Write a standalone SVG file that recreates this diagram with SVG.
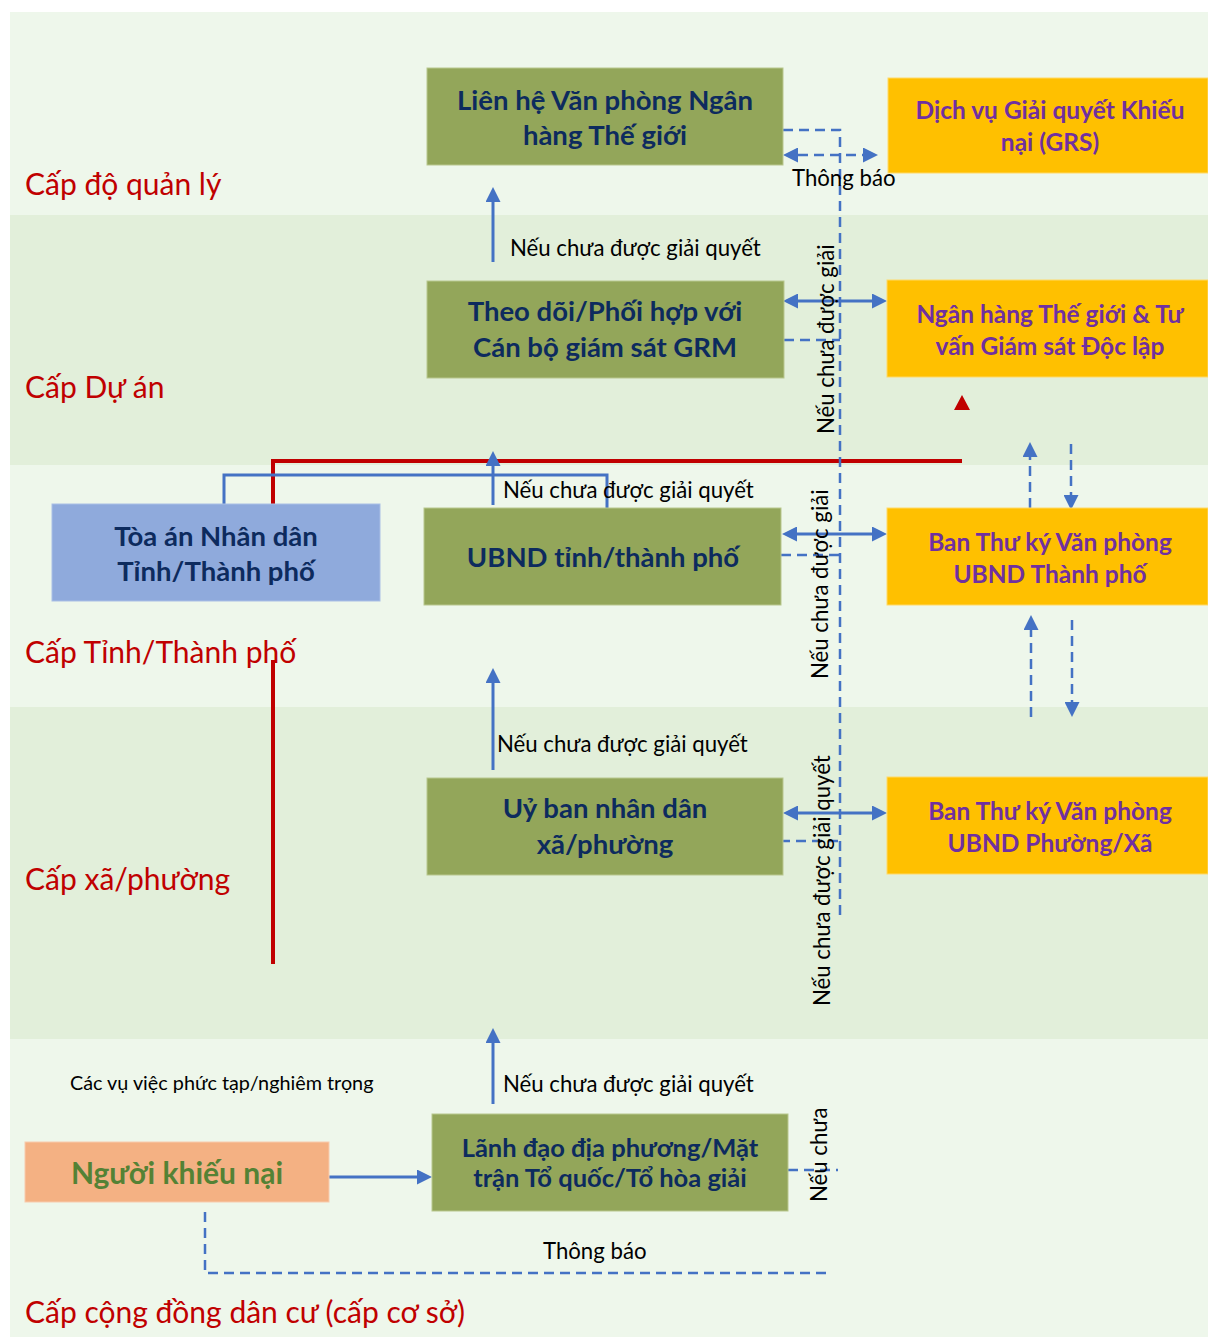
<svg xmlns="http://www.w3.org/2000/svg" width="1208" height="1337" viewBox="0 0 1208 1337">
<defs>
<style>
.bandL{fill:#EEF7EB}
.bandD{fill:#E2EFDA}
.g{fill:#93A65A;stroke:#B8C78E;stroke-width:1}
.y{fill:#FFC000;stroke:#FFD966;stroke-width:1}
.nt{font-family:Lato,"Liberation Sans",sans-serif;font-weight:bold;fill:#0D2B5E;text-anchor:middle}
.yt{font-family:Lato,"Liberation Sans",sans-serif;font-weight:bold;fill:#7030A0;text-anchor:middle;font-size:24.5px}
.lvl{font-family:Lato,"Liberation Sans",sans-serif;fill:#C00000;font-size:30px}
.lbl{font-family:Lato,"Liberation Sans",sans-serif;fill:#000;font-size:22.2px}
.sol{stroke:#4472C4;stroke-width:3;fill:none}
.dash{stroke:#4472C4;stroke-width:2.5;fill:none;stroke-dasharray:10 6}
.red{stroke:#C00000;stroke-width:4;fill:none}
</style>
<marker id="ah" viewBox="0 0 15 15" refX="0" refY="7.5" markerWidth="15" markerHeight="15" markerUnits="userSpaceOnUse" orient="auto-start-reverse">
<path d="M0,0 L15,7.5 L0,15 z" fill="#4472C4"/>
</marker>
</defs>
<rect x="0" y="0" width="1208" height="1337" fill="#fff"/>
<g id="bands">
<rect class="bandL" x="10" y="12" width="1198" height="203"/>
<rect class="bandD" x="10" y="215" width="1198" height="250"/>
<rect class="bandL" x="10" y="465" width="1198" height="242"/>
<rect class="bandD" x="10" y="707" width="1198" height="332"/>
<rect class="bandL" x="10" y="1039" width="1198" height="298"/>
</g>
<g id="connectors">
<path class="red" d="M273,964 V660"/>
<path class="red" d="M273,504 V461 H962"/>
<polygon points="962,395 954,410 970,410" fill="#C00000"/>
<path class="sol" d="M224,504 V475 H607 V508"/>
<line class="sol" x1="493" y1="262" x2="493" y2="202" marker-end="url(#ah)"/>
<line class="sol" x1="493" y1="505" x2="493" y2="466" marker-end="url(#ah)"/>
<line class="sol" x1="493" y1="770" x2="493" y2="683" marker-end="url(#ah)"/>
<line class="sol" x1="493" y1="1104" x2="493" y2="1043" marker-end="url(#ah)"/>
<line class="sol" x1="329" y1="1177" x2="417" y2="1177" marker-end="url(#ah)"/>
<line class="sol" x1="798" y1="301" x2="872" y2="301" marker-start="url(#ah)" marker-end="url(#ah)"/>
<line class="sol" x1="797" y1="534" x2="872" y2="534" marker-start="url(#ah)" marker-end="url(#ah)"/>
<line class="sol" x1="798" y1="813" x2="872" y2="813" marker-start="url(#ah)" marker-end="url(#ah)"/>
<line class="dash" x1="798" y1="155" x2="863" y2="155" marker-start="url(#ah)" marker-end="url(#ah)"/>
<path class="dash" d="M783,130 H840 V920"/>
<line class="dash" x1="784" y1="340" x2="840" y2="340"/>
<line class="dash" x1="781" y1="555" x2="840" y2="555"/>
<line class="dash" x1="780" y1="841" x2="840" y2="841"/>
<line class="dash" x1="788" y1="1170" x2="838" y2="1170"/>
<path class="dash" d="M205,1212 V1273 H832"/>
<line class="dash" x1="1030" y1="508" x2="1030" y2="457" marker-end="url(#ah)"/>
<line class="dash" x1="1071" y1="444" x2="1071" y2="495" marker-end="url(#ah)"/>
<line class="dash" x1="1031" y1="717" x2="1031" y2="630" marker-end="url(#ah)"/>
<line class="dash" x1="1072" y1="620" x2="1072" y2="702" marker-end="url(#ah)"/>
</g>
<g id="level-labels">
<text class="lvl" x="25" y="195">Cấp độ quản lý</text>
<text class="lvl" x="25" y="398">Cấp Dự án</text>
<text class="lvl" x="25" y="663">Cấp Tỉnh/Thành phố</text>
<text class="lvl" x="25" y="890">Cấp xã/phường</text>
<text class="lvl" x="25" y="1323">Cấp cộng đồng dân cư (cấp cơ sở)</text>
</g>
<g id="connector-labels">
<text class="lbl" x="792" y="186">Thông báo</text>
<text class="lbl" x="510" y="256">Nếu chưa được giải quyết</text>
<text class="lbl" x="503" y="498">Nếu chưa được giải quyết</text>
<text class="lbl" x="497" y="752">Nếu chưa được giải quyết</text>
<text class="lbl" x="503" y="1092">Nếu chưa được giải quyết</text>
<text class="lbl" x="70" y="1090" style="font-size:19.8px">Các vụ việc phức tạp/nghiêm trọng</text>
<text class="lbl" x="543" y="1259">Thông báo</text>
<text class="lbl" transform="translate(834,434) rotate(-90)">Nếu chưa được giải</text>
<text class="lbl" transform="translate(828,679) rotate(-90)">Nếu chưa được giải</text>
<text class="lbl" transform="translate(830,1006) rotate(-90)">Nếu chưa được giải quyết</text>
<text class="lbl" transform="translate(827,1202) rotate(-90)">Nếu chưa</text>
</g>
<g id="n-wb-office">
<rect class="g" x="427" y="68" width="356" height="97"/>
<text class="nt" x="605" y="110" font-size="27.5">Liên hệ Văn phòng Ngân</text>
<text class="nt" x="605" y="145" font-size="27.5">hàng Thế giới</text>
</g>
<g id="n-grs">
<rect class="y" x="888" y="78" width="320" height="95"/>
<text class="yt" x="1050" y="119">Dịch vụ Giải quyết Khiếu</text>
<text class="yt" x="1050" y="151">nại (GRS)</text>
</g>
<g id="n-grm">
<rect class="g" x="427" y="281" width="357" height="97"/>
<text class="nt" x="605" y="321" font-size="27.5">Theo dõi/Phối hợp với</text>
<text class="nt" x="605" y="357" font-size="27.5">Cán bộ giám sát GRM</text>
</g>
<g id="n-wb-iv">
<rect class="y" x="887" y="280" width="321" height="97"/>
<text class="yt" x="1050" y="323">Ngân hàng Thế giới &amp; Tư</text>
<text class="yt" x="1050" y="355">vấn Giám sát Độc lập</text>
</g>
<g id="n-court">
<rect x="52" y="504" width="328" height="97" fill="#8FAADC" stroke="#A9BFE6" stroke-width="1"/>
<text class="nt" x="216" y="546" font-size="27.5">Tòa án Nhân dân</text>
<text class="nt" x="216" y="581" font-size="27.5">Tỉnh/Thành phố</text>
</g>
<g id="n-ubnd-province">
<rect class="g" x="424" y="508" width="357" height="97"/>
<text class="nt" x="603" y="567" font-size="27.5">UBND tỉnh/thành phố</text>
</g>
<g id="n-sec-city">
<rect class="y" x="887" y="508" width="321" height="97"/>
<text class="yt" x="1050" y="551">Ban Thư ký Văn phòng</text>
<text class="yt" x="1050" y="583">UBND Thành phố</text>
</g>
<g id="n-ubnd-commune">
<rect class="g" x="427" y="778" width="356" height="97"/>
<text class="nt" x="605" y="818" font-size="27.5">Uỷ ban nhân dân</text>
<text class="nt" x="605" y="854" font-size="27.5">xã/phường</text>
</g>
<g id="n-sec-ward">
<rect class="y" x="887" y="777" width="321" height="97"/>
<text class="yt" x="1050" y="820">Ban Thư ký Văn phòng</text>
<text class="yt" x="1050" y="852">UBND Phường/Xã</text>
</g>
<g id="n-local">
<rect class="g" x="432" y="1114" width="356" height="97"/>
<text class="nt" x="610" y="1157" font-size="25.5">Lãnh đạo địa phương/Mặt</text>
<text class="nt" x="610" y="1187" font-size="25.5">trận Tổ quốc/Tổ hòa giải</text>
</g>
<g id="n-complainant">
<rect x="25" y="1142" width="304" height="60" fill="#F4B183" stroke="#F8CBAD" stroke-width="1"/>
<text x="177" y="1184" font-family="Lato,'Liberation Sans',sans-serif" font-weight="bold" font-size="30" fill="#548235" text-anchor="middle">Người khiếu nại</text>
</g>
</svg>
